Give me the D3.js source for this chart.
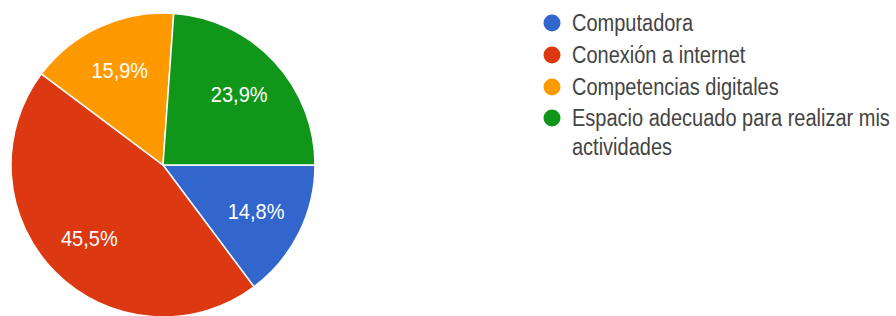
<!DOCTYPE html>
<html><head><meta charset="utf-8">
<script src="https://cdn.jsdelivr.net/npm/d3@7"></script>
<style>html,body{margin:0;padding:0;background:#fff;overflow:hidden}</style>
</head><body>
<svg id="chart" width="896" height="316"></svg>
<script>
const categories = ["Computadora", "Conexión a internet", "Competencias digitales", "Espacio adecuado para realizar mis actividades"];
const legendLines = [["Computadora"], ["Conexión a internet"], ["Competencias digitales"], ["Espacio adecuado para realizar mis", "actividades"]];
const values = [14.8, 45.5, 15.9, 23.9];
const colors = ["#3366cc", "#dc3912", "#ff9900", "#109618"];

const svg = d3.select("#chart");
const cx = 163, cy = 165, R = 152;

const pie = d3.pie().sort(null).value(d => d).startAngle(Math.PI / 2).endAngle(Math.PI / 2 + 2 * Math.PI);
const arcs = pie(values);
const arc = d3.arc().innerRadius(0).outerRadius(R);
const labelArc = d3.arc().innerRadius(R * 0.685).outerRadius(R * 0.685);

const g = svg.append("g").attr("transform", `translate(${cx},${cy})`);
g.selectAll("path").data(arcs).join("path")
  .attr("d", arc)
  .attr("fill", (d, i) => colors[i])
  .attr("stroke", "#fff")
  .attr("stroke-width", 1.5);

const fmt = v => v.toFixed(1).replace(".", ",") + "%";
g.selectAll("text").data(arcs).join("text")
  .attr("transform", d => `translate(${labelArc.centroid(d)}) scale(1,1.08)`)
  .attr("text-anchor", "middle")
  .attr("dy", "0.36em")
  .attr("fill", "#fff")
  .attr("font-family", "Arial, 'Liberation Sans', sans-serif")
  .attr("font-size", 20)
  .text(d => fmt(d.data));

const leg = svg.append("g");
const rowY = [23, 55, 87, 118];
const wrapGap = 29;
categories.forEach((c, i) => {
  leg.append("circle").attr("cx", 552).attr("cy", rowY[i]).attr("r", 8.5).attr("fill", colors[i]);
  legendLines[i].forEach((line, j) => {
    leg.append("text")
      .attr("transform", `translate(572,${rowY[i] + j * wrapGap}) scale(1,1.15)`)
      .attr("dy", "0.36em")
      .attr("fill", "#444")
      .attr("font-family", "Arial, 'Liberation Sans', sans-serif")
      .attr("font-size", 20)
      .text(line);
  });
});
</script>
</body></html>
